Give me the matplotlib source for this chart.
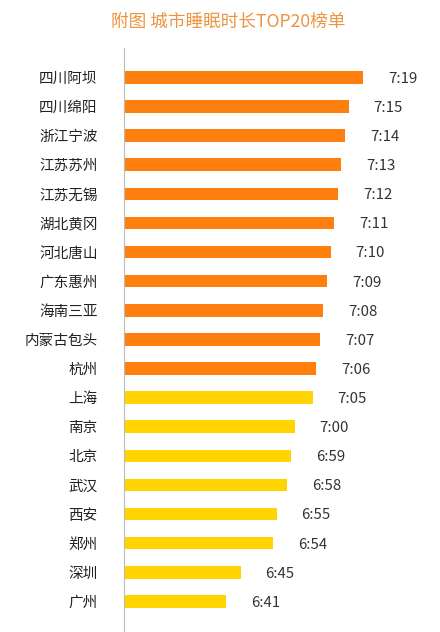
import matplotlib
matplotlib.use("Agg")
import matplotlib.pyplot as plt

plt.rcParams['font.family'] = ['Noto Sans CJK SC', 'DejaVu Sans']

# city sleep duration top 20
cities = ["四川阿坝", "四川绵阳", "浙江宁波", "江苏苏州", "江苏无锡", "湖北黄冈", "河北唐山",
          "广东惠州", "海南三亚", "内蒙古包头", "杭州", "上海", "南京", "北京", "武汉",
          "西安", "郑州", "深圳", "广州"]
durations = ["7:19", "7:15", "7:14", "7:13", "7:12", "7:11", "7:10", "7:09", "7:08", "7:07",
             "7:06", "7:05", "7:00", "6:59", "6:58", "6:55", "6:54", "6:45", "6:41"]
groups = ["top"] * 11 + ["big"] * 8

minutes = [int(d.split(":")[0]) * 60 + int(d.split(":")[1]) for d in durations]
colors = ["#FF7F0E" if g == "top" else "#FFD400" for g in groups]

fig = plt.figure(figsize=(4.4, 6.32), dpi=100)
fig.text(0.518, 0.966, "附图 城市睡眠时长TOP20榜单", ha="center", va="center",
         fontsize=12.7, color="#EE9440")

ax = fig.add_axes([124 / 440, 0, 316 / 440, 584 / 632])
ypos = list(range(len(cities)))
ax.barh(ypos, minutes, height=0.43, color=colors, left=0)
ax.set_xlim(372.6, 460.4)
ax.set_ylim(len(cities) - 1 + 1.05, -1.01)

for y, m, d in zip(ypos, minutes, durations):
    ax.annotate(d, (m, y), xytext=(18, -1), textcoords="offset points",
                ha="left", va="center", fontsize=10.8, color="#333333")

ax.set_yticks(ypos)
ax.set_yticklabels(cities, fontsize=10.5, color="#222222")
ax.tick_params(axis="y", length=0, pad=19)
ax.set_xticks([])
for s in ["top", "right", "bottom"]:
    ax.spines[s].set_visible(False)
ax.spines["left"].set_color("#BBBBBB")
ax.spines["left"].set_linewidth(0.8)

fig.savefig("out.png", dpi=100)
